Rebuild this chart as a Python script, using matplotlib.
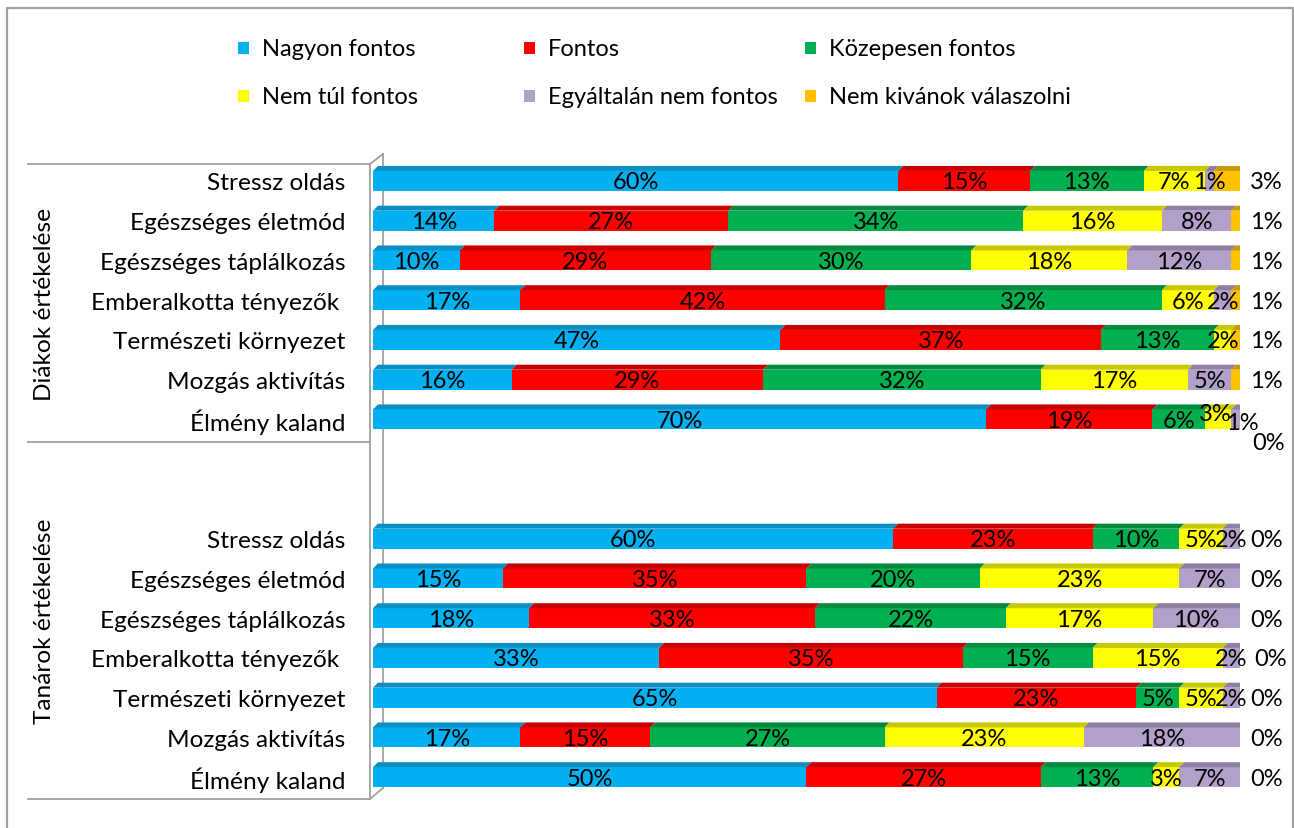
import numpy as np
import matplotlib
matplotlib.use("Agg")
import matplotlib.pyplot as plt
from matplotlib.patches import Polygon, Rectangle

plt.rcParams['font.family'] = ['Lato', 'DejaVu Sans']

# data: percentages
series = ['Nagyon fontos', 'Fontos', 'Közepesen fontos',
          'Nem túl fontos', 'Egyáltalán nem fontos', 'Nem kivánok válaszolni']
categories = ['Stressz oldás', 'Egészséges életmód', 'Egészséges táplálkozás',
              'Emberalkotta tényezők ', 'Természeti környezet',
              'Mozgás aktivítás', 'Élmény kaland']
groups = ['Diákok értékelése', 'Tanárok értékelése']

diakok = [[60, 15, 13, 7, 1, 3],
          [14, 27, 34, 16, 8, 1],
          [10, 29, 30, 18, 12, 1],
          [17, 42, 32, 6, 2, 1],
          [47, 37, 13, 2, 0, 1],
          [16, 29, 32, 17, 5, 1],
          [70, 19, 6, 3, 1, 0]]
tanarok = [[60, 23, 10, 5, 2, 0],
           [15, 35, 20, 23, 7, 0],
           [18, 33, 22, 17, 10, 0],
           [33, 35, 15, 15, 2, 0],
           [65, 23, 5, 5, 2, 0],
           [17, 15, 27, 23, 18, 0],
           [50, 27, 13, 3, 7, 0]]

front = ['#00B0F0', '#FF0000', '#00B050', '#FFFF00', '#B1A0C7', '#FFC000']
top = ['#0A8FC4', '#C80000', '#008A3E', '#C8C800', '#8E80A2', '#C99700']
side = '#B08600'

W, H = 1294, 829
fig = plt.figure(figsize=(W / 100, H / 100), dpi=100)

# background / frame axes in pixel space
bg = fig.add_axes([0, 0, 1, 1])
bg.set_xlim(0, W)
bg.set_ylim(H, 0)
bg.axis('off')
gray = '#A0A0A0'
bg.plot([7, 7, 1293, 1293], [829, 9, 9, 829], color=gray, lw=1.6)
for yy in (165, 443, 800):
    bg.plot([28, 370], [yy, yy], color=gray, lw=1.3)
bg.plot([370, 370], [165, 800], color=gray, lw=1.3)
bg.plot([383, 383], [155, 789], color=gray, lw=1.3)
bg.plot([370, 383], [165, 155], color=gray, lw=1.3)
bg.plot([370, 383], [800, 789], color=gray, lw=1.3)
bg.text(45, 304, groups[0], rotation=90, ha='center', va='center', fontsize=17.6)
bg.text(45, 621, groups[1], rotation=90, ha='center', va='center', fontsize=17.6)

# legend (Excel style, 3 columns)
leg_x = [238, 524, 805]
leg_y = [49, 97]
for k, name in enumerate(series):
    cx = leg_x[k % 3]
    cy = leg_y[k // 3]
    bg.add_patch(Rectangle((cx, cy - 6), 11, 12, color=front[k], lw=0))
    bg.text(cx + 24, cy, name, ha='left', va='center', fontsize=17)

# main bar axes
ax = fig.add_axes([373 / W, (H - 798) / H, 867 / W, (798 - 162) / H])
ax.set_xlim(0, 1)
ax.set_ylim(15.5, -0.5)
for s in ax.spines.values():
    s.set_visible(False)
ax.patch.set_alpha(0)
ax.set_xticks([])

rows = diakok + tanarok
ypos = list(range(7)) + list(range(9, 16))
labels = categories + categories
ax.set_yticks(ypos)
ax.set_yticklabels(labels, fontsize=17.6)
ax.tick_params(axis='y', length=0, pad=20)

dx = 5 / 867
dy = 5 / 39.73
bh = 0.5

# manual label nudges (pixels, +y = up) where Excel moved overlapping labels
nudge = {(6, 3): (-3, 7), (6, 4): (7, -2), (6, 5): (2, -22),
         (10, 5): (4, 0)}

for r, (y, vals) in enumerate(zip(ypos, rows)):
    v = np.array(vals, dtype=float)
    frac = v / v.sum()
    left = np.concatenate([[0], np.cumsum(frac)[:-1]])
    yt = y - bh / 2
    for j in range(len(series)):
        l, w = left[j], frac[j]
        ax.barh(y, w, left=l, height=bh, color=front[j], lw=0, zorder=2)
        ax.add_patch(Polygon([(l, yt), (l + w, yt), (l + w + dx, yt - dy),
                              (l + dx, yt - dy)], closed=True,
                             color=top[j], lw=0, zorder=2))
    ax.add_patch(Polygon([(1, yt), (1 + dx, yt - dy), (1 + dx, yt + bh - dy),
                          (1, yt + bh)], closed=True, color=side, lw=0, zorder=2))
    for j in range(len(series)):
        if j < 5 and vals[j] == 0:
            continue
        off = nudge.get((r, j), (0, 0))
        if j < 5:
            xx, ha = left[j] + frac[j] / 2, 'center'
        else:
            xx, ha = 1 + 10 / 867, 'left'
        ax.annotate(f"{vals[j]}%", (xx, y), xytext=(off[0], off[1] - 1),
                    textcoords='offset pixels', ha=ha, va='center',
                    fontsize=17, zorder=5, annotation_clip=False)

fig.savefig('out.png', dpi=100)
